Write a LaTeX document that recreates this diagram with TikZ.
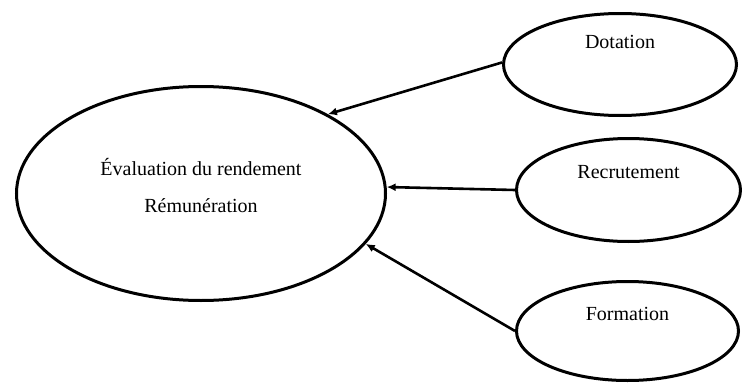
\documentclass[tikz,border=0pt]{standalone}
\usepackage{fontspec}
\setmainfont{Liberation Serif}
\usetikzlibrary{shapes.geometric,arrows.meta}

\tikzset{
  oval/.style={draw=black, line width=3pt, ellipse, inner sep=0pt, fill=white},
  lbl/.style={font=\fontsize{20}{24}\selectfont, inner sep=0pt, anchor=base, text=black},
  link/.style={line width=2.6pt, -{Latex[length=9pt,width=8pt]}, shorten >=0pt},
}

\begin{document}
\begin{tikzpicture}[x=1pt, y=-1pt]
  \useasboundingbox (0,0) rectangle (742,388);
  \fill[white] (0,0) rectangle (742,388);

  % central ellipse and the three feeding activities
  \node[oval, minimum width=369pt, minimum height=214pt] (eval) at (201,193.5) {};
  \node[oval, minimum width=233pt, minimum height=102pt] (dot)  at (620,64.5) {};
  \node[oval, minimum width=224pt, minimum height=103pt] (rec)  at (628.5,190) {};
  \node[oval, minimum width=222pt, minimum height=99pt]  (form) at (627.5,331) {};

  % texts
  \node[lbl] (evalA) at ([yshift=18pt]eval.center) {Évaluation du rendement};
  \node[lbl] (evalB) at ([yshift=-19pt]eval.center) {Rémunération};
  \node[lbl] (dotT)  at ([yshift=16pt]dot.center) {Dotation};
  \node[lbl] (recT)  at ([yshift=11.5pt]rec.center) {Recrutement};
  \node[lbl] (formT) at ([yshift=10.5pt]form.center) {Formation};

  % arrows towards the central ellipse
  \draw[link] (dot.179) -- (eval.32);
  \draw[link] (rec.west) -- (eval.2);
  \draw[link] (form.west) -- (eval.-17);
\end{tikzpicture}
\end{document}
